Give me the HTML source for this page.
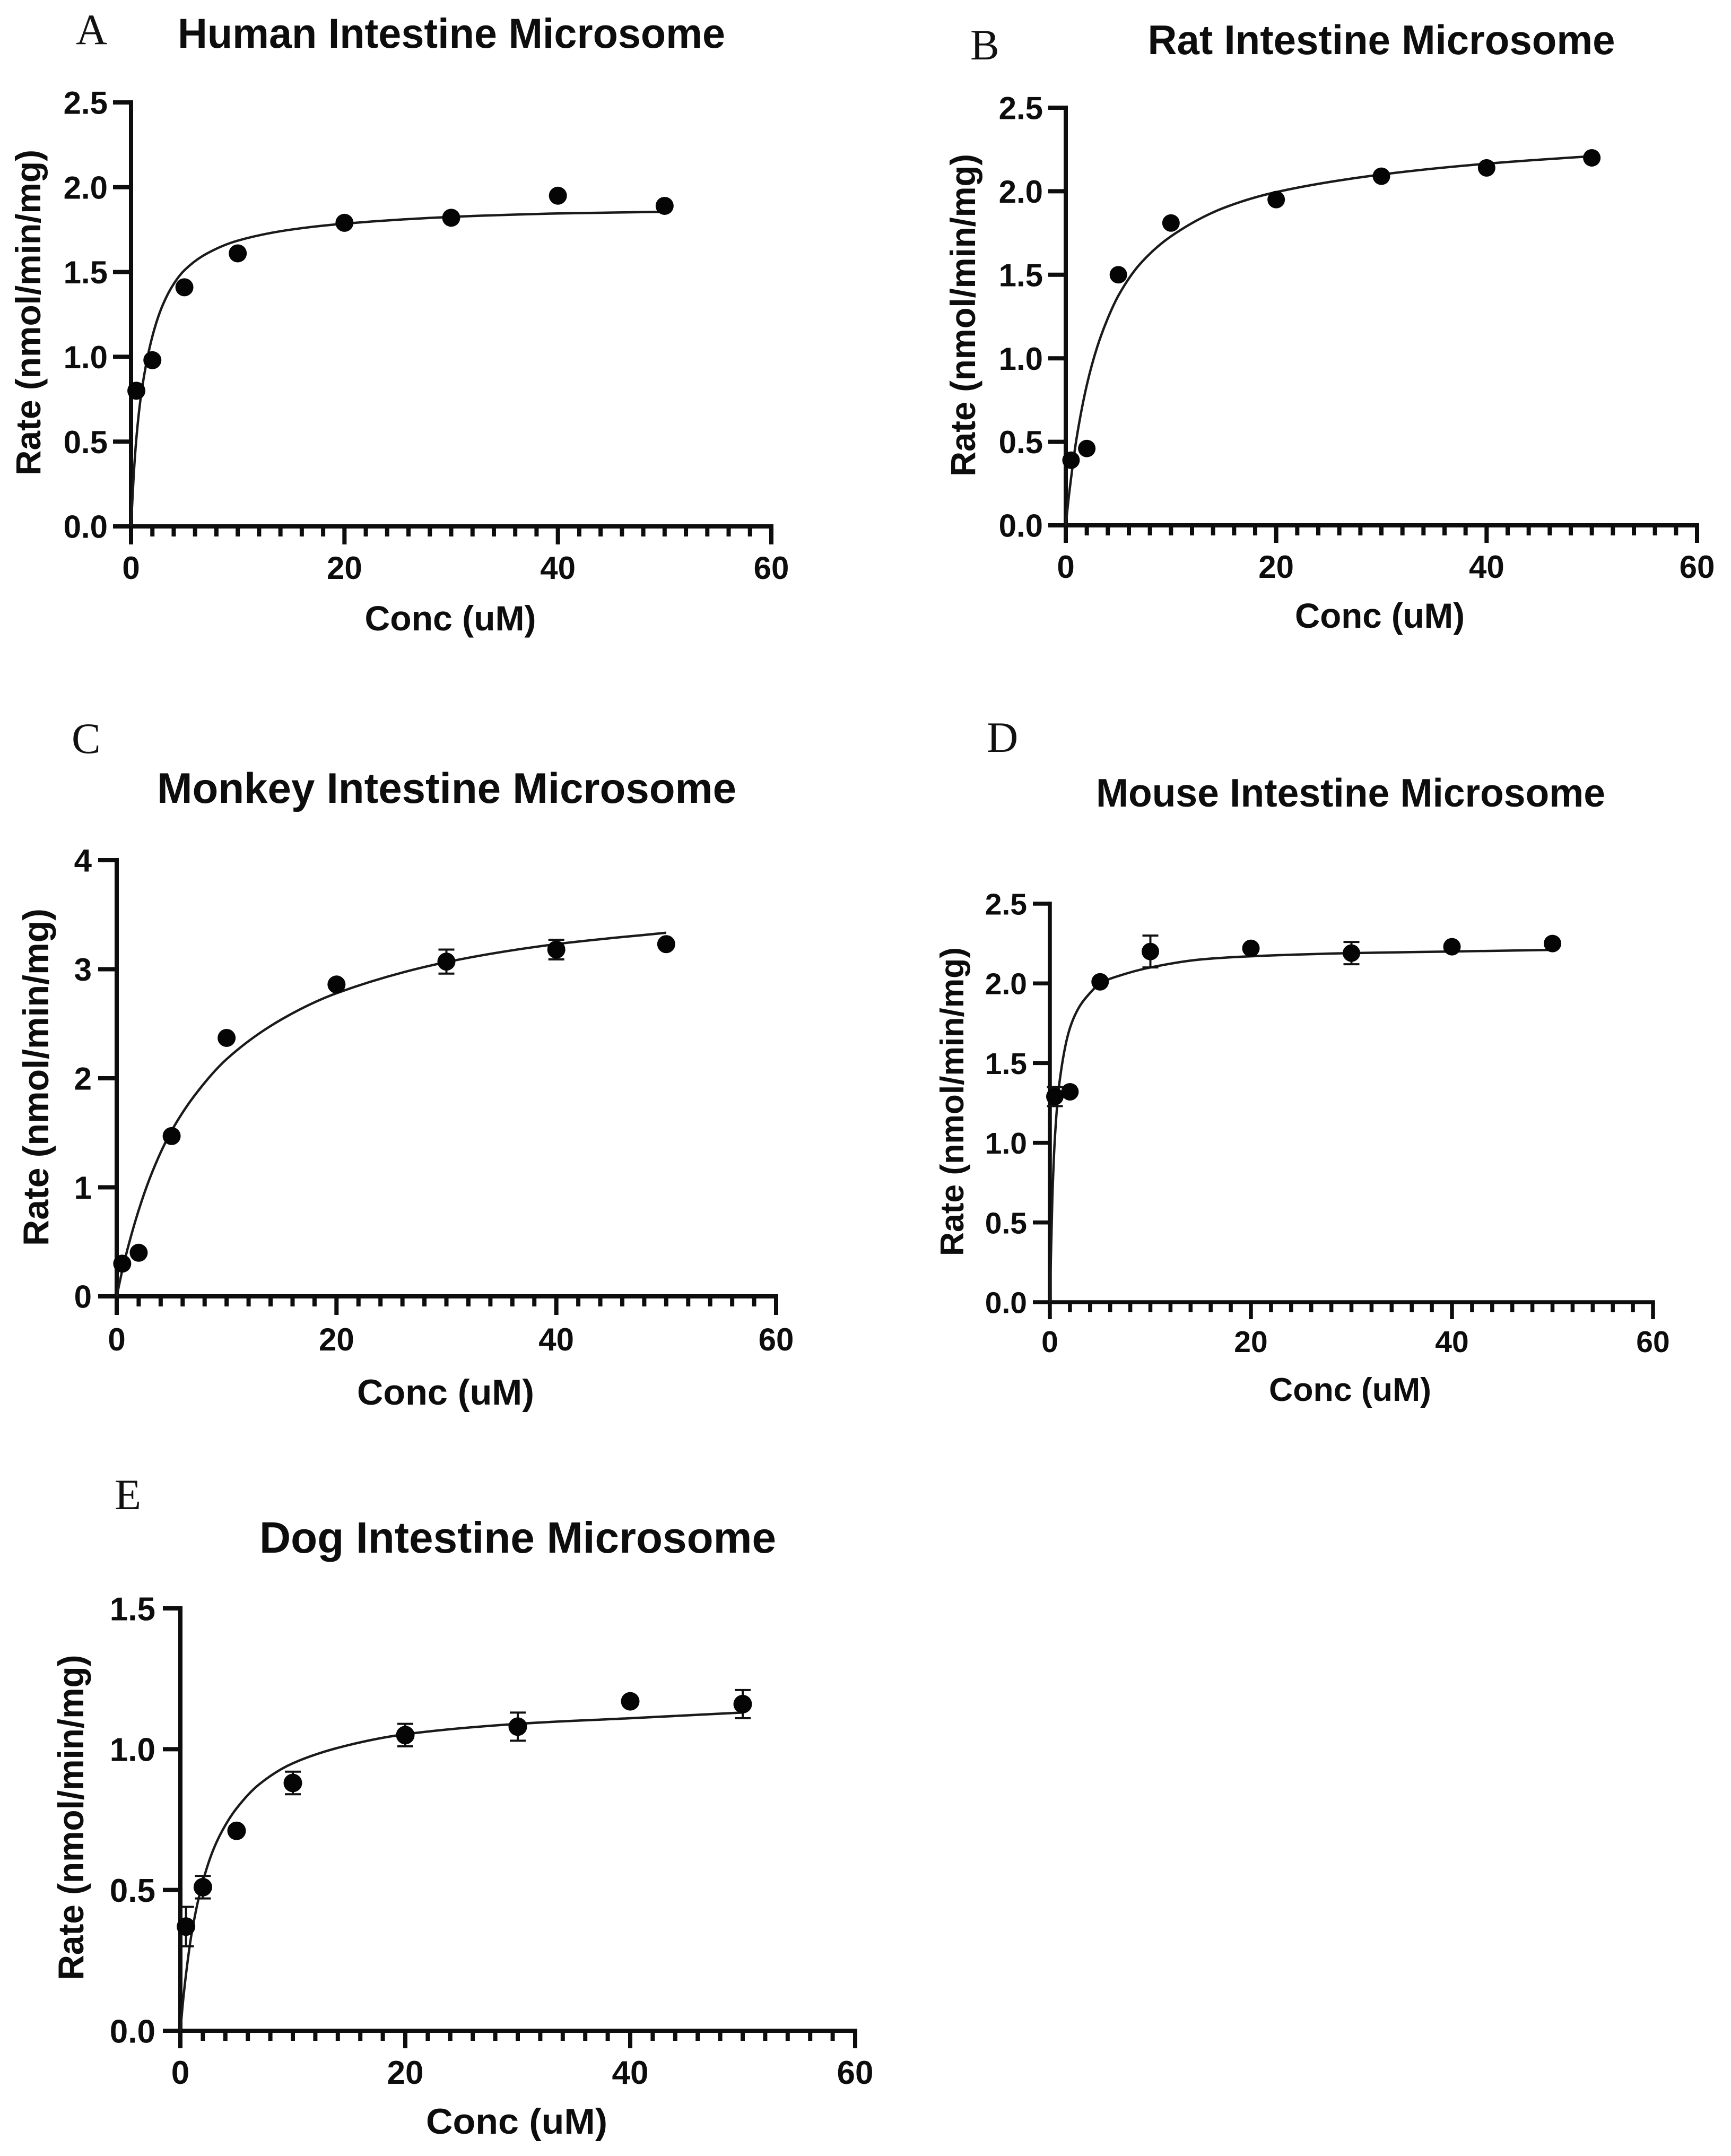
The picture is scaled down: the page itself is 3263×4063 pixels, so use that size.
<!DOCTYPE html>
<html lang="en">
<head>
<meta charset="utf-8">
<title>Intestine Microsome Kinetics</title>
<style>
html,body{margin:0;padding:0;background:#fff;}
svg{display:block;}
text{font-family:"Liberation Sans",Arial,sans-serif;fill:#0d0d0d;}
.letter{font-family:"Liberation Serif","Times New Roman",serif;fill:#111;}
</style>
</head>
<body>
<svg id="figure" xmlns="http://www.w3.org/2000/svg" width="3263" height="4063" viewBox="0 0 3263 4063"></svg>
<script>
const concentrations = [0.5, 2, 5, 10, 20, 30, 40, 50];
const curveConcentrations = [0, 0.25, 0.5, 1, 2, 3, 4, 5, 7, 10, 15, 20, 30, 40, 50];
const xTickLabels = [0, 20, 40, 60];

const humanRates = [0.80, 0.98, 1.41, 1.61, 1.79, 1.82, 1.95, 1.89];
const humanErrors = [0, 0, 0, 0, 0, 0, 0, 0];
const humanCurve = [0, 0.30, 0.52, 0.80, 1.12, 1.31, 1.43, 1.51, 1.605, 1.685, 1.75, 1.785, 1.825, 1.845, 1.855];
const humanYTicks = ['0.0', '0.5', '1.0', '1.5', '2.0', '2.5'];

const ratRates = [0.39, 0.46, 1.50, 1.81, 1.95, 2.09, 2.14, 2.20];
const ratErrors = [0, 0, 0, 0, 0, 0, 0, 0];
const ratCurve = [0, 0.15, 0.28, 0.51, 0.84, 1.07, 1.24, 1.375, 1.56, 1.73, 1.90, 1.995, 2.10, 2.165, 2.21];
const ratYTicks = ['0.0', '0.5', '1.0', '1.5', '2.0', '2.5'];

const monkeyRates = [0.30, 0.40, 1.47, 2.37, 2.86, 3.07, 3.18, 3.23];
const monkeyErrors = [0, 0, 0, 0, 0, 0.11, 0.09, 0];
const monkeyCurve = [0, 0.12, 0.235, 0.44, 0.79, 1.08, 1.32, 1.52, 1.83, 2.175, 2.54, 2.78, 3.065, 3.23, 3.335];
const monkeyYTicks = ['0', '1', '2', '3', '4'];

const mouseRates = [1.29, 1.32, 2.01, 2.20, 2.22, 2.19, 2.23, 2.25];
const mouseErrors = [0.06, 0, 0, 0.10, 0, 0.07, 0, 0];
const mouseCurve = [0, 0.65, 1.03, 1.40, 1.72, 1.86, 1.94, 2.00, 2.05, 2.10, 2.15, 2.17, 2.19, 2.20, 2.21];
const mouseYTicks = ['0.0', '0.5', '1.0', '1.5', '2.0', '2.5'];

const dogRates = [0.37, 0.51, 0.71, 0.88, 1.05, 1.08, 1.17, 1.16];
const dogErrors = [0.07, 0.04, 0, 0.04, 0.04, 0.05, 0, 0.05];
const dogCurve = [0, 0.11, 0.20, 0.345, 0.53, 0.65, 0.73, 0.79, 0.875, 0.95, 1.015, 1.053, 1.09, 1.11, 1.13];
const dogYTicks = ['0.0', '0.5', '1.0', '1.5'];

const panels = [
  {key:'human', letter:'A', title:'Human Intestine Microsome', yMax:2.5, rates:humanRates, errors:humanErrors, curve:humanCurve, yTicks:humanYTicks,
   left:247, right:1454, bottom:992, top:193, major:34, stroke:8, r:17, tickFont:60, xTickBase:1091, yTickRight:203,
   letterX:143, letterY:83, titleX:851, titleY:90, titleLen:1032, titleFont:79,
   yLabelX:76, yLabelC:589, yLabelLen:614, xLabelC:849, xLabelY:1188, xLabelLen:323, labelFont:66},
  {key:'rat', letter:'B', title:'Rat Intestine Microsome', yMax:2.5, rates:ratRates, errors:ratErrors, curve:ratCurve, yTicks:ratYTicks,
   left:2009, right:3199, bottom:990, top:203, major:33, stroke:8, r:16.5, tickFont:60, xTickBase:1089, yTickRight:1966,
   letterX:1829, letterY:112, titleX:2604, titleY:102, titleLen:881, titleFont:78,
   yLabelX:1838, yLabelC:594, yLabelLen:608, xLabelC:2601, xLabelY:1183, xLabelLen:320, labelFont:66},
  {key:'monkey', letter:'C', title:'Monkey Intestine Microsome', yMax:4, rates:monkeyRates, errors:monkeyErrors, curve:monkeyCurve, yTicks:monkeyYTicks,
   left:220, right:1463, bottom:2443, top:1621, major:35, stroke:8, r:17, tickFont:60, xTickBase:2545, yTickRight:173,
   letterX:135, letterY:1419, titleX:842, titleY:1513, titleLen:1092, titleFont:81,
   yLabelX:91, yLabelC:2030, yLabelLen:636, xLabelC:840, xLabelY:2647, xLabelLen:334, labelFont:68},
  {key:'mouse', letter:'D', title:'Mouse Intestine Microsome', yMax:2.5, rates:mouseRates, errors:mouseErrors, curve:mouseCurve, yTicks:mouseYTicks,
   left:1979, right:3116, bottom:2454, top:1703, major:32, stroke:7.5, r:16.5, tickFont:57, xTickBase:2548, yTickRight:1936,
   letterX:1860, letterY:1417, titleX:2546, titleY:1520, titleLen:960, titleFont:75,
   yLabelX:1816, yLabelC:2076, yLabelLen:582, xLabelC:2545, xLabelY:2640, xLabelLen:306, labelFont:62},
  {key:'dog', letter:'E', title:'Dog Intestine Microsome', yMax:1.5, rates:dogRates, errors:dogErrors, curve:dogCurve, yTicks:dogYTicks,
   left:340, right:1612, bottom:3827, top:3031, major:33, stroke:8, r:17.5, tickFont:62, xTickBase:3927, yTickRight:293,
   letterX:216, letterY:2844, titleX:976, titleY:2926, titleLen:974, titleFont:83,
   yLabelX:157, yLabelC:3425, yLabelLen:613, xLabelC:974, xLabelY:4021, xLabelLen:342, labelFont:68}
];

const svgNS = 'http://www.w3.org/2000/svg';
const root = document.getElementById('figure');
const xMax = 60;
const xMinorStep = 2;

function xScale(p, v) { return p.left + (v / xMax) * (p.right - p.left); }
function yScale(p, v) { return p.bottom - (v / p.yMax) * (p.bottom - p.top); }

function make(tag, parent, attrs) {
  const el = document.createElementNS(svgNS, tag);
  for (const k in attrs) el.setAttribute(k, attrs[k]);
  parent.appendChild(el);
  return el;
}

// Monotone cubic path through the read curve points (handles uneven spacing without kinks).
function smoothPath(pts) {
  const n = pts.length, slopes = [], tangents = [];
  for (let i = 0; i < n - 1; i++) slopes.push((pts[i + 1][1] - pts[i][1]) / (pts[i + 1][0] - pts[i][0]));
  tangents.push(slopes[0]);
  for (let i = 1; i < n - 1; i++) {
    const h0 = pts[i][0] - pts[i - 1][0], h1 = pts[i + 1][0] - pts[i][0];
    const w0 = 2 * h1 + h0, w1 = h1 + 2 * h0;
    tangents.push((w0 + w1) / (w0 / slopes[i - 1] + w1 / slopes[i]));
  }
  tangents.push(slopes[n - 2]);
  let d = 'M' + pts[0][0].toFixed(1) + ' ' + pts[0][1].toFixed(1);
  for (let i = 0; i < n - 1; i++) {
    const h = (pts[i + 1][0] - pts[i][0]) / 3;
    d += 'C' + (pts[i][0] + h).toFixed(1) + ' ' + (pts[i][1] + tangents[i] * h).toFixed(1) + ' ' +
         (pts[i + 1][0] - h).toFixed(1) + ' ' + (pts[i + 1][1] - tangents[i + 1] * h).toFixed(1) + ' ' +
         pts[i + 1][0].toFixed(1) + ' ' + pts[i + 1][1].toFixed(1);
  }
  return d;
}

panels.forEach(function (p) {
  const g = make('g', root, {});
  
  

  const letter = make('text', g, {x: p.letterX, y: p.letterY, 'font-size': 82, 'class': 'letter'});
  
  
  letter.textContent = p.letter;

  const title = make('text', g, {x: p.titleX, y: p.titleY, 'font-size': p.titleFont, 'font-weight': 700, 'text-anchor': 'middle', textLength: p.titleLen, lengthAdjust: 'spacingAndGlyphs'});
  
  
  title.textContent = p.title;

  const yLabel = make('text', g, {x: p.yLabelX, y: p.yLabelC, 'font-size': p.labelFont, 'font-weight': 700, 'text-anchor': 'middle', textLength: p.yLabelLen, lengthAdjust: 'spacingAndGlyphs', transform: 'rotate(-90 ' + p.yLabelX + ' ' + p.yLabelC + ')'});
  
  
  yLabel.textContent = 'Rate (nmol/min/mg)';

  const xLabel = make('text', g, {x: p.xLabelC, y: p.xLabelY, 'font-size': p.labelFont, 'font-weight': 700, 'text-anchor': 'middle', textLength: p.xLabelLen, lengthAdjust: 'spacingAndGlyphs'});
  
  
  xLabel.textContent = 'Conc (uM)';

  const axisStyle = {stroke: '#0d0d0d', 'stroke-width': p.stroke, fill: 'none'};

  const yAxis = make('line', g, Object.assign({x1: p.left, x2: p.left, y1: p.top - p.stroke / 2, y2: p.bottom}, axisStyle));
  
  

  const xAxis = make('line', g, Object.assign({x1: p.left, x2: p.right + p.stroke / 2, y1: p.bottom, y2: p.bottom}, axisStyle));
  
  

  for (let v = 0; v <= xMax; v += xMinorStep) {
    const isMajor = v % 20 === 0;
    const x = xScale(p, v);
    const tick = make('line', g, Object.assign({x1: x, x2: x, y1: p.bottom, y2: p.bottom + (isMajor ? p.major : 19)}, axisStyle));
    
    
  }

  xTickLabels.forEach(function (v) {
    const t = make('text', g, {x: xScale(p, v), y: p.xTickBase, 'font-size': p.tickFont, 'font-weight': 700, 'text-anchor': 'middle'});
    
    
    t.textContent = v;
  });

  p.yTicks.forEach(function (label) {
    const y = yScale(p, parseFloat(label));
    const tick = make('line', g, Object.assign({x1: p.left - p.major, x2: p.left, y1: y, y2: y}, axisStyle));
    
    
    const t = make('text', g, {x: p.yTickRight, y: y + p.tickFont * 0.36, 'font-size': p.tickFont, 'font-weight': 700, 'text-anchor': 'end'});
    
    
    t.textContent = label;
  });

  const curvePts = curveConcentrations.map(function (c, i) { return [xScale(p, c), yScale(p, p.curve[i])]; });
  const curve = make('path', g, {d: smoothPath(curvePts), fill: 'none', stroke: '#1a1a1a', 'stroke-width': 4.5});
  
  

  concentrations.forEach(function (c, i) {
    const x = xScale(p, c), y = yScale(p, p.rates[i]), e = p.errors[i];
    if (e > 0) {
      const hi = yScale(p, p.rates[i] + e), lo = yScale(p, p.rates[i] - e), cap = 15;
      const bar = make('path', g, {d: 'M' + x + ' ' + hi + 'V' + lo + 'M' + (x - cap) + ' ' + hi + 'H' + (x + cap) + 'M' + (x - cap) + ' ' + lo + 'H' + (x + cap), fill: 'none', stroke: '#111', 'stroke-width': 4});
      
      
    }
    const dot = make('circle', g, {cx: x, cy: y, r: p.r, fill: '#050505'});
    
    
  });
});
</script>
</body>
</html>
